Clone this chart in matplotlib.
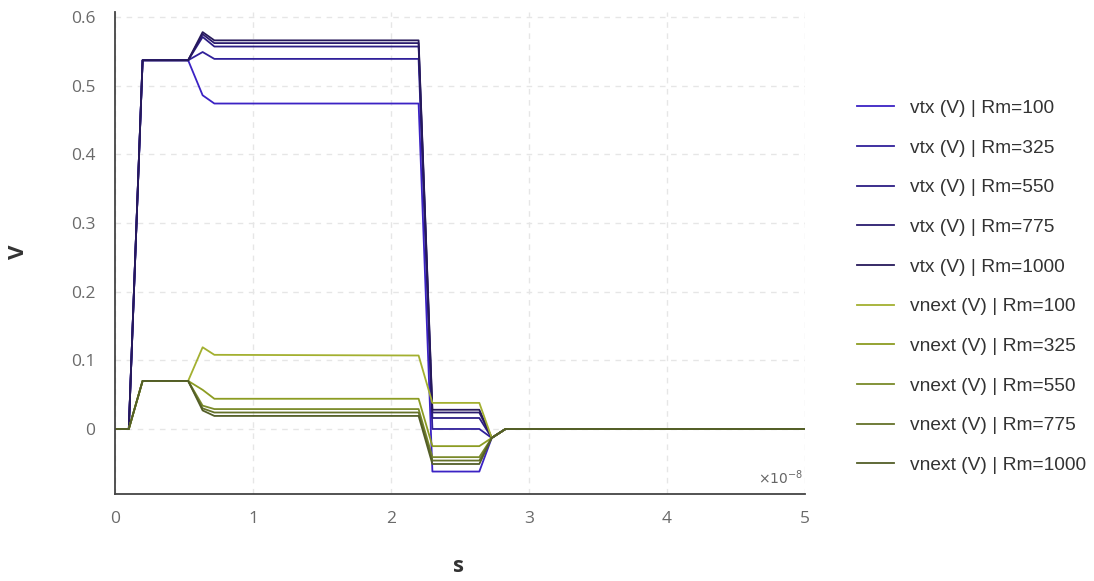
import matplotlib
matplotlib.use('Agg')
from matplotlib import pyplot as plt, ticker

# time points (s)
t = [0, 0.1e-8, 0.2e-8, 0.53e-8, 0.635e-8, 0.72e-8, 2.2e-8, 2.3e-8,
     2.64e-8, 2.73e-8, 2.83e-8, 5e-8]

rm_values = [100, 325, 550, 775, 1000]

vtx_100 = [0, 0, 0.537, 0.537, 0.486, 0.474, 0.474, -0.062, -0.062, -0.013, 0, 0]
vtx_325 = [0, 0, 0.537, 0.537, 0.549, 0.539, 0.539, 0.0, 0.0, -0.013, 0, 0]
vtx_550 = [0, 0, 0.537, 0.537, 0.571, 0.557, 0.557, 0.016, 0.016, -0.013, 0, 0]
vtx_775 = [0, 0, 0.537, 0.537, 0.575, 0.562, 0.562, 0.024, 0.024, -0.013, 0, 0]
vtx_1000 = [0, 0, 0.537, 0.537, 0.578, 0.566, 0.566, 0.028, 0.028, -0.013, 0, 0]

vnext_100 = [0, 0, 0.07, 0.07, 0.119, 0.108, 0.107, 0.038, 0.038, -0.013, 0, 0]
vnext_325 = [0, 0, 0.07, 0.07, 0.057, 0.044, 0.044, -0.025, -0.025, -0.013, 0, 0]
vnext_550 = [0, 0, 0.07, 0.07, 0.034, 0.029, 0.029, -0.041, -0.041, -0.013, 0, 0]
vnext_775 = [0, 0, 0.07, 0.07, 0.030, 0.024, 0.024, -0.046, -0.046, -0.013, 0, 0]
vnext_1000 = [0, 0, 0.07, 0.07, 0.027, 0.019, 0.019, -0.051, -0.051, -0.013, 0, 0]

vtx = [vtx_100, vtx_325, vtx_550, vtx_775, vtx_1000]
vnext = [vnext_100, vnext_325, vnext_550, vnext_775, vnext_1000]

vtx_colors = ['#3b22c4', '#30209a', '#2c1d84', '#2a1b6e', '#26195a']
vnext_colors = ['#a3b030', '#8c9c22', '#7a8a2a', '#65722a', '#535e28']

fig = plt.figure(figsize=(10.94, 5.81), dpi=100)
ax = fig.add_axes([115 / 1094, 1 - 494 / 581, 690 / 1094, 482 / 581])

for rm, ys, c in zip(rm_values, vtx, vtx_colors):
    ax.plot(t, ys, color=c, linewidth=1.3, label=f'vtx (V) | Rm={rm}')
for rm, ys, c in zip(rm_values, vnext, vnext_colors):
    ax.plot(t, ys, color=c, linewidth=1.3, label=f'vnext (V) | Rm={rm}')

ax.set_xlim(0, 5e-8)
ax.set_ylim(-0.0947, 0.6073)
ax.set_xticks([i * 1e-8 for i in range(6)])
ax.set_yticks([0, 0.1, 0.2, 0.3, 0.4, 0.5, 0.6])
ax.xaxis.set_major_formatter(ticker.FuncFormatter(lambda v, p: f'{v * 1e8:g}'))
ax.yaxis.set_major_formatter(ticker.FuncFormatter(lambda v, p: f'{v:g}'))

ax.grid(True, linestyle=(0, (4, 4)), color='#e6e6e6', linewidth=1)
ax.set_axisbelow(True)
for side in ['top', 'right']:
    ax.spines[side].set_visible(False)
for side in ['left', 'bottom']:
    ax.spines[side].set_color('#444444')
    ax.spines[side].set_linewidth(1.3)
ax.tick_params(length=0, labelsize=12.5, labelcolor='#6a6a6a')
ax.tick_params(axis='y', pad=14)
ax.tick_params(axis='x', pad=12)
for lab in ax.get_xticklabels() + ax.get_yticklabels():
    lab.set_family('Open Sans')

ax.text(0.997, 0.015, r'$\times\mathit{10^{-8}}$', transform=ax.transAxes, ha='right',
        va='bottom', fontsize=10, color='#666666')

fig.text(18 / 1094, 1 - 252 / 581, 'V', rotation=90, ha='center', va='center',
         fontsize=16, fontweight='bold', color='#333333', family='Open Sans')
fig.text(459 / 1094, 1 - 567 / 581, 's', ha='center', va='center',
         fontsize=16, fontweight='bold', color='#333333', family='Open Sans')

fig.legend(loc='upper left', bbox_to_anchor=(849 / 1094, 1 - 92 / 581),
           frameon=False, prop={'family': 'Liberation Sans', 'size': 13.8},
           handlelength=1.95, handletextpad=0.85, labelspacing=1.16,
           borderaxespad=0, labelcolor='#333333')

plt.savefig('out.png', dpi=100)
